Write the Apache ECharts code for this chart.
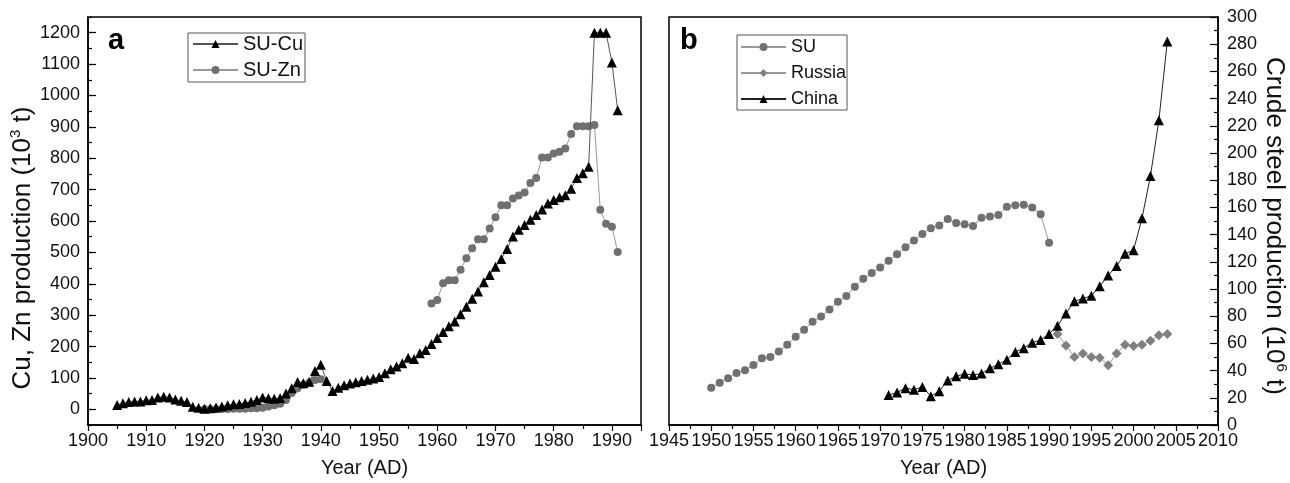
<!DOCTYPE html>
<html>
<head>
<meta charset="utf-8">
<script src="https://cdn.jsdelivr.net/npm/echarts@6/dist/echarts.min.js"></script>
<style>html,body{margin:0;padding:0;background:#fff}#c{width:1290px;height:483px}</style>
</head>
<body>
<div id="c"></div>
<script>
// ---- Panel a: SU copper and zinc production (10^3 t)
const cuYears = [];
for (let y = 1905; y <= 1991; y++) cuYears.push(y);
const cuValues = [14,19,23,25,25,29,30,38,40,38,31,27,23,8,5,
  2,3,6,9,13,16,17,20,24,30,38,35,34,36,50,67,87,83,88,122,142,90,58,69,77,82,86,90,94,98,
  103,115,128,136,147,164,160,179,189,208,227,246,265,280,303,327,352,375,405,428,
  454,479,511,551,572,587,604,619,637,656,667,676,682,703,737,752,773,1200,1200,1200,1105,953];
const znYears = [];
for (let y = 1920; y <= 1991; y++) znYears.push(y);
const znValues = [0,0,0,1,1,2,2,2,3,3,5,9,13,18,30,52,67,78,85,93,96,
  null,null,null,null,null,null,null,null,null,null,null,null,null,null,null,null,null,null,
  337,348,402,411,411,445,481,513,542,542,576,612,650,650,672,681,691,721,737,802,802,815,821,831,877,902,902,902,906,636,591,582,501];
const yTicksA = [0,100,200,300,400,500,600,700,800,900,1000,1100,1200];

// ---- Panel b: crude steel production (10^6 t)
const suYears = [];
for (let y = 1950; y <= 1990; y++) suYears.push(y);
const suValues = [27.3,31.0,34.4,38.3,40.2,44.1,49.0,50.0,54.1,59.0,64.9,70.0,75.9,79.8,84.9,90.7,94.9,101.7,107.6,111.7,
  115.9,120.7,125.6,130.7,135.6,140.5,144.6,146.6,151.5,148.5,147.6,146.3,152.4,153.4,154.4,160.5,161.5,162,160,155,134];
const ruYears = [];
for (let y = 1991; y <= 2004; y++) ruYears.push(y);
const ruValues = [67,58.5,50,52.5,50,49.5,44,52.5,59,58,59,62,66,67];
const cnYears = [];
for (let y = 1971; y <= 2004; y++) cnYears.push(y);
const cnValues = [22.0,23.9,27.1,25.9,28.0,21.2,24.9,32.7,35.9,37.6,36.8,37.8,41.7,44.6,48.0,53.7,
  56.5,60.5,62.5,67,73,82,91,93,95,102,110,117,126,128.5,152,183,224,282];

const pairs = (xs, vs) => xs.map((x, i) => [x, vs[i] === null ? '-' : vs[i]]);
const FONT = 'Liberation Sans, Arial, Helvetica, sans-serif';
const lab = {color: '#111', fontSize: 18, fontFamily: FONT};
const mkName = (fs, lh, sfs, pad) => ({color: '#111', fontSize: fs, fontFamily: FONT, padding: pad,
  rich: {n: {fontSize: fs, fontFamily: FONT, color: '#111', lineHeight: lh},
         sup: {fontSize: sfs, fontFamily: FONT, color: '#111', lineHeight: lh, verticalAlign: 'top'}}});
const lineBlack = {show: true, onZero: false, lineStyle: {color: '#000', width: 1.5}};
const fmt = v => String(v);

const chart = echarts.init(document.getElementById('c'), null, {renderer: 'canvas'});
chart.setOption({
  animation: false,
  backgroundColor: '#fff',
  grid: [
    {left: 88, top: 17, width: 553, height: 410, show: true, borderColor: '#000', borderWidth: 1.5},
    {left: 669, top: 17, width: 549, height: 410, show: true, borderColor: '#000', borderWidth: 1.5}
  ],
  xAxis: [
    {gridIndex: 0, type: 'value', min: 1900, max: 1995, interval: 10,
     axisLine: lineBlack, splitLine: {show: false},
     axisTick: {show: true, inside: false, length: 6, lineStyle: {color: '#000', width: 1.2}},
     minorTick: {show: true, splitNumber: 2, length: 4, lineStyle: {color: '#000', width: 1.2}},
     axisLabel: Object.assign({margin: 7, showMaxLabel: false, formatter: v => v === 1995 ? '' : String(v)}, lab),
     name: 'Year (AD)', nameLocation: 'middle', nameGap: 33, nameTextStyle: {color: '#111', fontSize: 20, fontFamily: FONT}},
    {gridIndex: 1, type: 'value', min: 1945, max: 2010, interval: 5,
     axisLine: lineBlack, splitLine: {show: false},
     axisTick: {show: true, inside: false, length: 6, lineStyle: {color: '#000', width: 1.2}},
     minorTick: {show: true, splitNumber: 2, length: 4, lineStyle: {color: '#000', width: 1.2}},
     axisLabel: Object.assign({margin: 7, formatter: fmt}, lab),
     name: 'Year (AD)', nameLocation: 'middle', nameGap: 33, nameTextStyle: {color: '#111', fontSize: 20, fontFamily: FONT}}
  ],
  yAxis: [
    {gridIndex: 0, type: 'value', min: -50, max: 1250, position: 'left',
     axisLine: lineBlack, splitLine: {show: false},
     axisTick: {show: true, inside: true, length: 8, customValues: yTicksA, lineStyle: {color: '#000', width: 1.2}},
     axisLabel: Object.assign({margin: 8, customValues: yTicksA, formatter: fmt}, lab),
     name: '{n|Cu, Zn production (10}{sup|3}{n| t)}', nameLocation: 'middle', nameGap: 43,
     nameTextStyle: mkName(26, 30, 15, [0, 54, 0, 0])},
    {gridIndex: 0, type: 'value', min: -50, max: 1250, interval: 50, position: 'left',
     axisLine: {show: false}, splitLine: {show: false}, axisLabel: {show: false},
     axisTick: {show: true, inside: true, length: 4, lineStyle: {color: '#000', width: 1.2}}},
    {gridIndex: 1, type: 'value', min: 0, max: 300, interval: 20, position: 'right',
     axisLine: lineBlack, splitLine: {show: false},
     axisTick: {show: true, inside: true, length: 8, lineStyle: {color: '#000', width: 1.2}},
     minorTick: {show: true, splitNumber: 2, length: 4, lineStyle: {color: '#000', width: 1.2}},
     axisLabel: Object.assign({margin: 9, formatter: fmt}, lab),
     name: '{n|Crude steel production (10}{sup|6}{n| t)}', nameLocation: 'middle', nameRotate: -90, nameGap: 36,
     nameTextStyle: mkName(26, 30, 15, [0, 0, 0, 10])}
  ],
  legend: [
    {left: 188, top: 33, orient: 'vertical', data: ['SU-Cu', 'SU-Zn'],
     borderColor: '#555', borderWidth: 1, padding: [1, 2, 2, 4], itemGap: 6,
     itemWidth: 45, itemHeight: 10, textStyle: {color: '#111', fontSize: 20, fontFamily: FONT}},
    {left: 737, top: 35, orient: 'vertical', data: ['SU', 'Russia', 'China'],
     borderColor: '#555', borderWidth: 1, padding: [3, 1, 2, 3], itemGap: 8,
     itemWidth: 45, itemHeight: 10, textStyle: {color: '#111', fontSize: 18, fontFamily: FONT}}
  ],
  graphic: [
    {type: 'text', left: 108, top: 26, style: {text: 'a', font: 'bold 29px ' + FONT, fill: '#000'}},
    {type: 'text', left: 680, top: 26, style: {text: 'b', font: 'bold 29px ' + FONT, fill: '#000'}}
  ],
  series: [
    {name: 'SU-Cu', type: 'line', xAxisIndex: 0, yAxisIndex: 0, data: pairs(cuYears, cuValues),
     symbol: 'triangle', symbolSize: 10, itemStyle: {color: '#000'}, lineStyle: {color: '#555', width: 1}, z: 3},
    {name: 'SU-Zn', type: 'line', xAxisIndex: 0, yAxisIndex: 0, data: pairs(znYears, znValues), connectNulls: false,
     symbol: 'circle', symbolSize: 8, itemStyle: {color: '#707070'}, lineStyle: {color: '#999', width: 1}, z: 2},
    {name: 'SU', type: 'line', xAxisIndex: 1, yAxisIndex: 2, data: pairs(suYears, suValues),
     symbol: 'circle', symbolSize: 8, itemStyle: {color: '#707070'}, lineStyle: {color: '#999', width: 1}},
    {name: 'Russia', type: 'line', xAxisIndex: 1, yAxisIndex: 2, data: pairs(ruYears, ruValues),
     symbol: 'diamond', symbolSize: 10, itemStyle: {color: '#808080'}, lineStyle: {color: '#999', width: 1}},
    {name: 'China', type: 'line', xAxisIndex: 1, yAxisIndex: 2, data: pairs(cnYears, cnValues),
     symbol: 'triangle', symbolSize: 10, itemStyle: {color: '#000'}, lineStyle: {color: '#222', width: 1}}
  ]
});
</script>
</body>
</html>
